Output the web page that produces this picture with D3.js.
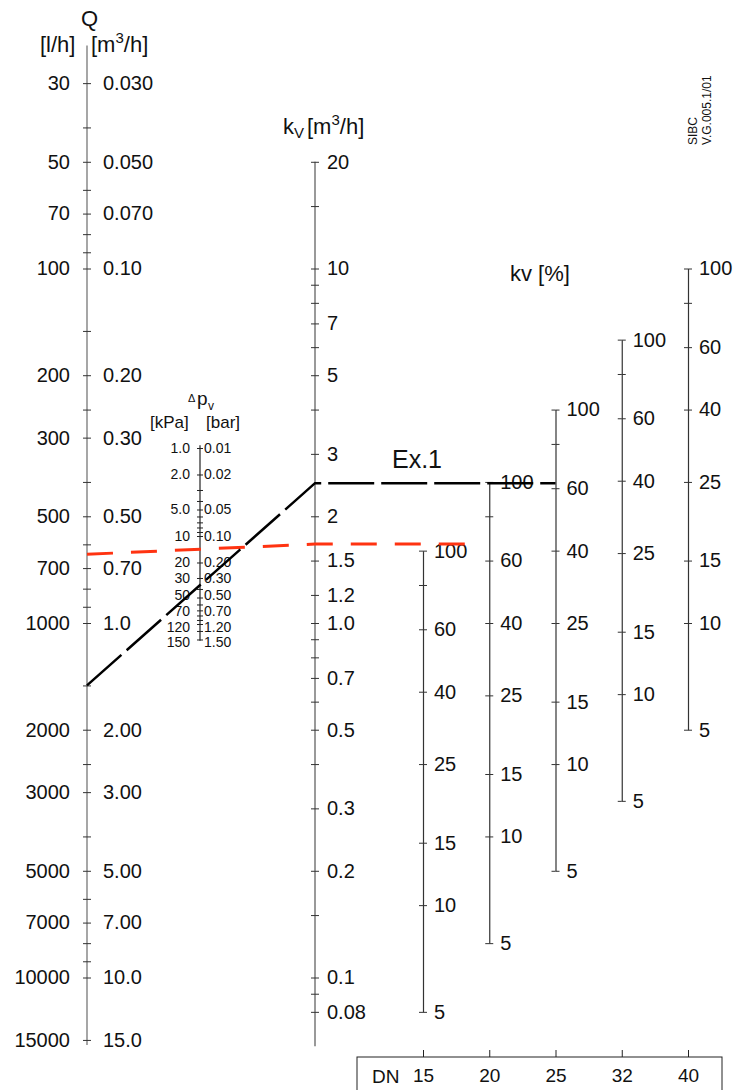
<!DOCTYPE html>
<html>
<head>
<meta charset="utf-8">
<script src="https://cdn.jsdelivr.net/npm/d3@7"></script>
<style>
body { margin: 0; background: #fff; }
text { font-family: "Liberation Sans", Arial, sans-serif; fill: #111; }
</style>
</head>
<body>
<div id="chart"></div>
<script>
// flow Q, labelled in l/h (left) and m3/h (right)
var qTicksLh = [30, 50, 70, 100, 200, 300, 500, 700, 1000, 2000, 3000, 5000, 7000, 10000, 15000];
var qTicksM3 = ["0.030", "0.050", "0.070", "0.10", "0.20", "0.30", "0.50", "0.70", "1.0", "2.00", "3.00", "5.00", "7.00", "10.0", "15.0"];
var qMinor = [40, 60, 80, 90, 150, 250, 400, 600, 800, 900, 1500, 2500, 4000, 6000, 8000, 9000];
var qExtent = [23.5, 15500];

// kv [m3/h]
var kvTicks = [20, 10, 7, 5, 3, 2, 1.5, 1.2, 1.0, 0.7, 0.5, 0.3, 0.2, 0.1, 0.08];
var kvTickText = ["20", "10", "7", "5", "3", "2", "1.5", "1.2", "1.0", "0.7", "0.5", "0.3", "0.2", "0.1", "0.08"];
var kvMinor = [15, 9, 8, 6, 4, 0.9, 0.8, 0.6, 0.4, 0.15, 0.09];
var kvExtent = [20, 0.064];

// pressure drop, kPa (left) and bar (right)
var dpTicksKpa = [1, 2, 5, 10, 20, 30, 50, 70, 120, 150];
var dpTextKpa = ["1.0", "2.0", "5.0", "10", "20", "30", "50", "70", "120", "150"];
var dpTextBar = ["0.01", "0.02", "0.05", "0.10", "0.20", "0.30", "0.50", "0.70", "1.20", "1.50"];
var dpMinor = [3, 4, 6, 7, 8, 9, 40, 60, 80, 90, 100];
var dpExtent = [0.93, 155];

// valve sizes with their kvs, and the kv % scale on each
var dnSizes = ["15", "20", "25", "32", "40"];
var dnKvs = [1.6, 2.5, 4.0, 6.3, 10];
var pctTicks = [100, 80, 60, 40, 25, 15, 10, 5];

// worked example lines: Q [l/h], kv [m3/h], end position (DN column index)
var exBlack = {q: 1500, kv: 2.48, end: 2};
var exRed = {q: 640, kv: 1.67, end: 0.785};

var width = 735, height = 1090;
var xQ = 87, xKv = 315, xDp = 200;

var svg = d3.select("#chart").append("svg")
    .attr("width", width)
    .attr("height", height);

var yQ = d3.scaleLog().domain([100, 10000]).range([268.5, 977.5]);
var yKv = d3.scaleLog().domain([10, 0.1]).range([268.5, 977.5]);
var yDp = d3.scaleLog().domain([1, 100]).range([448, 624]);
var xDn = d3.scaleLinear().domain([0, dnSizes.length - 1]).range([423, 688]);

function styleAxis(g, size, color) {
    g.attr("font-family", "Liberation Sans, Arial, sans-serif")
        .attr("font-size", size)
        .attr("color", color);
    g.selectAll("text").style("fill", "#111");
    return g;
}

// ---- Q axis
svg.append("line")
    .attr("x1", xQ).attr("x2", xQ)
    .attr("y1", yQ(qExtent[0])).attr("y2", yQ(qExtent[1]))
    .attr("stroke", "#777").attr("stroke-width", 1.3);

var gq = svg.append("g").attr("transform", "translate(" + xQ + ",0)");
gq.append("g").call(d3.axisLeft(yQ).tickValues(qTicksLh).tickFormat(d3.format("d")).tickSize(4).tickPadding(13))
    .call(styleAxis, 20, "#333").select(".domain").remove();
gq.append("g").call(d3.axisRight(yQ).tickValues(qTicksLh).tickFormat(function(d, i) { return qTicksM3[i]; }).tickSize(4).tickPadding(12))
    .call(styleAxis, 20, "#333").select(".domain").remove();
gq.append("g").call(d3.axisLeft(yQ).tickValues(qMinor).tickFormat("").tickSize(4))
    .call(styleAxis, 10, "#333").select(".domain").remove();
gq.append("g").call(d3.axisRight(yQ).tickValues(qMinor).tickFormat("").tickSize(4))
    .call(styleAxis, 10, "#333").select(".domain").remove();

// ---- kv axis
svg.append("line")
    .attr("x1", xKv).attr("x2", xKv)
    .attr("y1", yKv(kvExtent[0])).attr("y2", yKv(kvExtent[1]))
    .attr("stroke", "#555").attr("stroke-width", 1.2);

var gk = svg.append("g").attr("transform", "translate(" + xKv + ",0)");
gk.append("g").call(d3.axisRight(yKv).tickValues(kvTicks).tickFormat(function(d, i) { return kvTickText[i]; }).tickSize(4).tickPadding(8))
    .call(styleAxis, 20, "#333").select(".domain").remove();
gk.append("g").call(d3.axisLeft(yKv).tickValues(kvTicks.concat(kvMinor)).tickFormat("").tickSize(4))
    .call(styleAxis, 10, "#333").select(".domain").remove();
gk.append("g").call(d3.axisRight(yKv).tickValues(kvMinor).tickFormat("").tickSize(4))
    .call(styleAxis, 10, "#333").select(".domain").remove();

// ---- delta p axis
svg.append("line")
    .attr("x1", xDp).attr("x2", xDp)
    .attr("y1", yDp(dpExtent[0])).attr("y2", yDp(dpExtent[1]))
    .attr("stroke", "#222").attr("stroke-width", 1.2);

// the last labels crowd together, nudge them apart like the printed chart
function nudge(d) {
    if (d == 50) return -2;
    if (d == 70) return 1;
    if (d == 120) return -4;
    if (d == 150) return 3;
    return 0;
}
var gd = svg.append("g").attr("transform", "translate(" + xDp + ",0)");
gd.append("g").call(d3.axisLeft(yDp).tickValues(dpTicksKpa).tickFormat(function(d, i) { return dpTextKpa[i]; }).tickSize(3).tickPadding(7))
    .call(styleAxis, 14, "#222").select(".domain").remove();
gd.append("g").call(d3.axisRight(yDp).tickValues(dpTicksKpa).tickFormat(function(d, i) { return dpTextBar[i]; }).tickSize(3).tickPadding(1))
    .call(styleAxis, 14, "#222").select(".domain").remove();
gd.selectAll(".tick text").attr("y", function(d) { return nudge(d); });
gd.append("g").call(d3.axisLeft(yDp).tickValues(dpMinor).tickFormat("").tickSize(3))
    .call(styleAxis, 10, "#222").select(".domain").remove();
gd.append("g").call(d3.axisRight(yDp).tickValues(dpMinor).tickFormat("").tickSize(3))
    .call(styleAxis, 10, "#222").select(".domain").remove();

// ---- kv % axes, one per DN
dnSizes.forEach(function(dn, i) {
    var kvs = dnKvs[i];
    var yPct = d3.scaleLog().domain([100, 5])
        .range([yKv(kvs), yKv(kvs * 0.05)]);
    var g = svg.append("g").attr("transform", "translate(" + xDn(i) + ",0)");
    g.append("g").call(d3.axisRight(yPct).tickValues(pctTicks).tickSize(4).tickSizeOuter(0).tickPadding(7))
        .call(styleAxis, 20, "#333");
    g.select(".domain").attr("stroke-width", 1.2);
    g.append("g").call(d3.axisLeft(yPct).tickValues(pctTicks).tickFormat("").tickSize(4))
        .call(styleAxis, 10, "#333").select(".domain").remove();
});

// ---- example lines
var line = d3.line();
function exPoints(ex) {
    return [[xQ, yQ(ex.q)], [xKv, yKv(ex.kv)], [xDn(ex.end), yKv(ex.kv)]];
}
svg.append("path")
    .attr("d", line(exPoints(exRed)))
    .attr("fill", "none")
    .attr("stroke", "#ff3311")
    .attr("stroke-width", 3)
    .attr("stroke-dasharray", "26,18");
svg.append("path")
    .attr("d", line(exPoints(exBlack)))
    .attr("fill", "none")
    .attr("stroke", "#000")
    .attr("stroke-width", 2.5)
    .attr("stroke-dasharray", "46,7");

// ---- titles
svg.append("text").attr("x", 81).attr("y", 26).attr("font-size", 22).text("Q");
svg.append("text").attr("x", 40).attr("y", 52).attr("font-size", 22).text("[l/h]");
var qm = svg.append("text").attr("x", 91).attr("y", 52).attr("font-size", 22);
qm.append("tspan").text("[m");
qm.append("tspan").attr("font-size", 15).attr("dy", -9).text("3");
qm.append("tspan").attr("dy", 9).text("/h]");

var kt = svg.append("text").attr("x", 283).attr("y", 134).attr("font-size", 22);
kt.append("tspan").text("k");
kt.append("tspan").attr("font-size", 15).attr("dy", 4).text("V");
kt.append("tspan").attr("x", 307).attr("dy", -4).text("[m");
kt.append("tspan").attr("font-size", 15).attr("dy", -9).text("3");
kt.append("tspan").attr("dy", 9).text("/h]");

svg.append("text").attr("x", 510).attr("y", 281).attr("font-size", 22).text("kv [%]");
svg.append("text").attr("x", 392).attr("y", 468).attr("font-size", 25).text("Ex.1");

svg.append("text").attr("x", 188).attr("y", 402).attr("font-size", 11).text("Δ");
svg.append("text").attr("x", 197).attr("y", 405).attr("font-size", 19).text("p");
svg.append("text").attr("x", 208).attr("y", 410).attr("font-size", 12).text("v");
svg.append("text").attr("x", 150).attr("y", 428).attr("font-size", 17).text("[kPa]");
svg.append("text").attr("x", 206).attr("y", 428).attr("font-size", 17).text("[bar]");

svg.append("text").attr("transform", "translate(697,145) rotate(-90)").attr("font-size", 12).text("SIBC");
svg.append("text").attr("transform", "translate(711,145) rotate(-90)").attr("font-size", 12).text("V.G.005.1/01");

// ---- DN table
svg.append("rect")
    .attr("x", 357).attr("y", 1057)
    .attr("width", 365).attr("height", 60)
    .attr("fill", "none").attr("stroke", "#222").attr("stroke-width", 1);
svg.append("g").attr("transform", "translate(0,1057)")
    .call(d3.axisBottom(xDn).tickValues(d3.range(dnSizes.length))
        .tickFormat(function(d) { return dnSizes[d]; }).tickSize(-7).tickPadding(12))
    .call(styleAxis, 19, "#222")
    .select(".domain").remove();
svg.append("text").attr("x", 372).attr("y", 1083).attr("font-size", 19).text("DN");
</script>
</body>
</html>
